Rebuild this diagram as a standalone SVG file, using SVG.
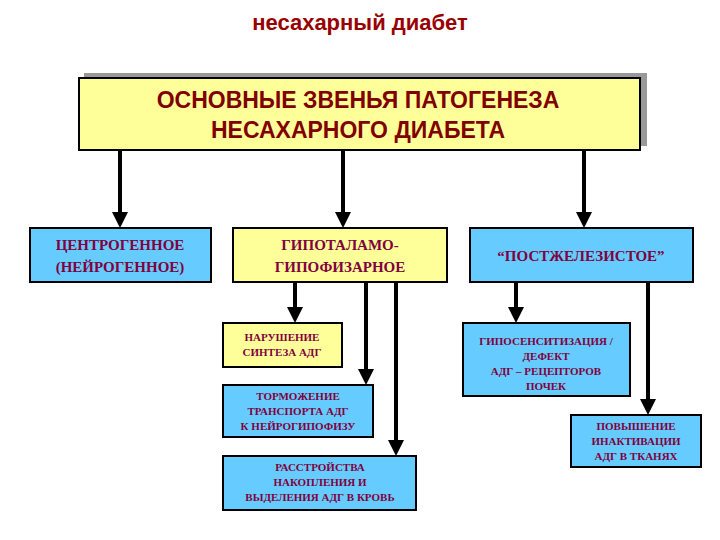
<svg xmlns="http://www.w3.org/2000/svg" width="720" height="540" viewBox="0 0 720 540">
<style>
.b{stroke:#000;stroke-width:2}
.y{fill:#ffff99}.c{fill:#66ccff}
.t{font-family:"Liberation Serif",serif;font-weight:bold;fill:#800040;text-anchor:middle}
.s{font-size:11px}.m{font-size:15px}
.w{stroke:#000;stroke-width:4;fill:none;marker-end:url(#a)}
</style>
<defs><marker id="a" markerWidth="4" markerHeight="4" refX="2" refY="2" orient="auto"><path d="M0,0L4,2L0,4Z" fill="#000"/></marker></defs>
<rect width="720" height="540" fill="#fff"/>
<text x="360" y="30" font-family="Liberation Sans,sans-serif" font-size="22" font-weight="bold" fill="#990000" text-anchor="middle">несахарный диабет</text>
<g id="main"><rect x="84" y="73" width="563" height="73" fill="#999"/><rect class="b y" x="79" y="78" width="561" height="72"/>
<text font-family="Liberation Sans,sans-serif" font-size="23" font-weight="bold" fill="#800000" text-anchor="middle"><tspan x="358" y="108">ОСНОВНЫЕ  ЗВЕНЬЯ  ПАТОГЕНЕЗА</tspan><tspan x="358" y="138">НЕСАХАРНОГО  ДИАБЕТА</tspan></text></g>
<g id="c1"><rect class="b c" x="30" y="228" width="181" height="54"/><text class="t m"><tspan x="120" y="250">ЦЕНТРОГЕННОЕ</tspan><tspan x="120" y="272">(НЕЙРОГЕННОЕ)</tspan></text></g>
<g id="c2"><rect class="b y" x="233" y="228" width="214" height="54"/><text class="t m"><tspan x="340" y="250">ГИПОТАЛАМО-</tspan><tspan x="340" y="272">ГИПОФИЗАРНОЕ</tspan></text></g>
<g id="c3"><rect class="b c" x="470" y="228" width="223" height="54"/><text class="t m"><tspan x="581" y="261">“ПОСТЖЕЛЕЗИСТОЕ”</tspan></text></g>
<g id="s1"><rect class="b y" x="223" y="323" width="119" height="44"/><text class="t s"><tspan x="282" y="341">НАРУШЕНИЕ</tspan><tspan x="282" y="356">СИНТЕЗА АДГ</tspan></text></g>
<g id="s2"><rect class="b c" x="223" y="385" width="150" height="52"/><text class="t s"><tspan x="298" y="400">ТОРМОЖЕНИЕ</tspan><tspan x="298" y="415">ТРАНСПОРТА  АДГ</tspan><tspan x="298" y="430">К  НЕЙРОГИПОФИЗУ</tspan></text></g>
<g id="s3"><rect class="b c" x="223" y="456" width="193" height="54"/><text class="t s"><tspan x="320" y="471">РАССТРОЙСТВА</tspan><tspan x="320" y="486">НАКОПЛЕНИЯ  И</tspan><tspan x="320" y="501">ВЫДЕЛЕНИЯ  АДГ  В  КРОВЬ</tspan></text></g>
<g id="s4"><rect class="b c" x="463" y="323" width="167" height="73"/><text class="t s"><tspan x="546" y="345">ГИПОСЕНСИТИЗАЦИЯ /</tspan><tspan x="546" y="360">ДЕФЕКТ</tspan><tspan x="546" y="375">АДГ – РЕЦЕПТОРОВ</tspan><tspan x="546" y="390">ПОЧЕК</tspan></text></g>
<g id="s5"><rect class="b c" x="571" y="415" width="130" height="52"/><text class="t s"><tspan x="636" y="430">ПОВЫШЕНИЕ</tspan><tspan x="636" y="445">ИНАКТИВАЦИИ</tspan><tspan x="636" y="460">АДГ  В ТКАНЯХ</tspan></text></g>
<g id="connectors">
<line class="w" x1="120" y1="151" x2="120" y2="220"/>
<line class="w" x1="343" y1="151" x2="343" y2="220"/>
<line class="w" x1="584" y1="151" x2="584" y2="220"/>
<line class="w" x1="295" y1="283" x2="295" y2="315"/>
<line class="w" x1="366" y1="283" x2="366" y2="377"/>
<line class="w" x1="396" y1="283" x2="396" y2="448"/>
<line class="w" x1="516" y1="283" x2="516" y2="315"/>
<line class="w" x1="648" y1="283" x2="648" y2="407"/>
</g>
</svg>
